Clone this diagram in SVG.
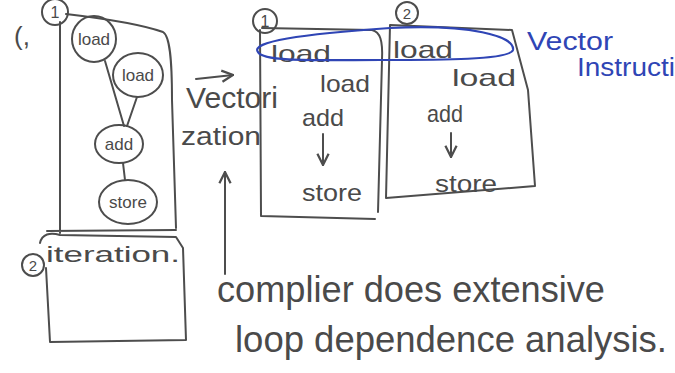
<svg xmlns="http://www.w3.org/2000/svg" width="675" height="373" viewBox="0 0 675 373">
<style>
.s{fill:none;stroke:#4d4d4d;stroke-width:2;stroke-linecap:round;stroke-linejoin:round}
.b{fill:none;stroke:#2f45b5;stroke-width:2.2}
.t{font-family:"Liberation Sans",Arial,sans-serif;fill:#4a4a4a}
.bt{font-family:"Liberation Sans",Arial,sans-serif;fill:#2f45b5}
</style>
<defs>
<marker id="ah" viewBox="0 0 10 10" refX="9" refY="5" markerWidth="7" markerHeight="7" orient="auto-start-reverse">
<path d="M1,1 L9,5 L1,9" fill="none" stroke="#4d4d4d" stroke-width="1.6"/>
</marker>
</defs>
<rect width="675" height="373" fill="#fff"/>

<g id="iter1-box">
<circle class="s" cx="55" cy="12" r="13" stroke-width="2.5"/>
<text class="t" x="55" y="18" font-size="16" text-anchor="middle">1</text>
<path class="s" d="M60,22 L60,233 M66,14 C100,18 140,24 163,32 C170,36 172,60 172,100 L176,228 M47,231 L176,230"/>
<text class="t" x="14" y="45" font-size="26">(,</text>
</g>
<g id="n-load1"><ellipse class="s" cx="94" cy="39" rx="22" ry="23"/><text class="t" x="94" y="45" font-size="17" text-anchor="middle">load</text></g>
<g id="n-load2"><ellipse class="s" cx="138" cy="75" rx="25" ry="22"/><text class="t" x="138" y="81" font-size="17" text-anchor="middle">load</text></g>
<g id="n-add"><ellipse class="s" cx="119" cy="144" rx="24" ry="19"/><text class="t" x="119" y="150" font-size="17" text-anchor="middle">add</text></g>
<g id="n-store"><ellipse class="s" cx="128" cy="202" rx="29" ry="22"/><text class="t" x="128" y="208" font-size="17" text-anchor="middle">store</text></g>

<g id="iter2-box">
<path class="s" d="M40,243 C42,234 50,232 60,235 L176,237 L183,248 L186,340 L50,342 L46,268"/>
<circle class="s" cx="33" cy="265" r="11" stroke-width="2.5"/>
<text class="t" x="33" y="271" font-size="15" text-anchor="middle">2</text>
<text class="t" x="46" y="262" font-size="22" textLength="134" lengthAdjust="spacingAndGlyphs">iteration.</text>
</g>

<g id="vectorization-label">
<text class="t" x="186" y="108" font-size="30" textLength="92" lengthAdjust="spacingAndGlyphs">Vectori</text>
<text class="t" x="181" y="145" font-size="26" textLength="80" lengthAdjust="spacingAndGlyphs">zation</text>
</g>

<g id="vec-iter1">
<circle class="s" cx="265" cy="21" r="12" stroke-width="2.5"/>
<text class="t" x="265" y="27" font-size="16" text-anchor="middle">1</text>
<path class="s" d="M260,30 L261,216 L375,219 M262,28 L372,30 C380,32 383,40 382,60 L378,212"/>
<text class="t" x="271" y="62" font-size="24" textLength="60" lengthAdjust="spacingAndGlyphs">load</text>
<text class="t" x="320" y="92" font-size="24" textLength="50" lengthAdjust="spacingAndGlyphs">load</text>
<text class="t" x="302" y="126" font-size="24" textLength="42" lengthAdjust="spacingAndGlyphs">add</text>
<text class="t" x="302" y="201" font-size="24" textLength="60" lengthAdjust="spacingAndGlyphs">store</text>
</g>

<g id="vec-iter2">
<circle class="s" cx="407" cy="13" r="11" stroke-width="2.5"/>
<text class="t" x="407" y="19" font-size="15" text-anchor="middle">2</text>
<path class="s" d="M390,25 L386,198 L535,186 M390,25 L512,30 L528,90 L535,186"/>
<text class="t" x="393" y="58" font-size="24" textLength="60" lengthAdjust="spacingAndGlyphs">load</text>
<text class="t" x="452" y="86" font-size="24" textLength="64" lengthAdjust="spacingAndGlyphs">load</text>
<text class="t" x="427" y="122" font-size="24" textLength="36" lengthAdjust="spacingAndGlyphs">add</text>
<text class="t" x="435" y="192" font-size="24" textLength="62" lengthAdjust="spacingAndGlyphs">store</text>
</g>

<g id="vector-instruction">
<path class="b" d="M258,52 C250,42 300,34 390,28 C470,24 515,36 513,50 C510,60 440,60 380,60 C320,60 262,62 258,52 Z"/>
<text class="bt" x="527" y="50" font-size="26" textLength="86" lengthAdjust="spacingAndGlyphs">Vector</text>
<text class="bt" x="577" y="76" font-size="26" textLength="98" lengthAdjust="spacingAndGlyphs">Instructi</text>
</g>

<g id="note">
<text class="t" x="217" y="302" font-size="36" textLength="388" lengthAdjust="spacingAndGlyphs">complier does extensive</text>
<text class="t" x="235" y="352" font-size="36" textLength="432" lengthAdjust="spacingAndGlyphs">loop dependence analysis.</text>
</g>

<g id="connectors">
<line class="s" x1="105" y1="61" x2="124" y2="126"/>
<line class="s" x1="137" y1="97" x2="127" y2="126"/>
<line class="s" x1="123" y1="163" x2="125" y2="180"/>
<line class="s" x1="323" y1="134" x2="323" y2="165" marker-end="url(#ah)"/>
<line class="s" x1="451" y1="133" x2="451" y2="157" marker-end="url(#ah)"/>
<line class="s" x1="196" y1="79" x2="233" y2="75" marker-end="url(#ah)"/>
<line class="s" x1="225" y1="274" x2="225" y2="172" marker-end="url(#ah)"/>
</g>
</svg>
